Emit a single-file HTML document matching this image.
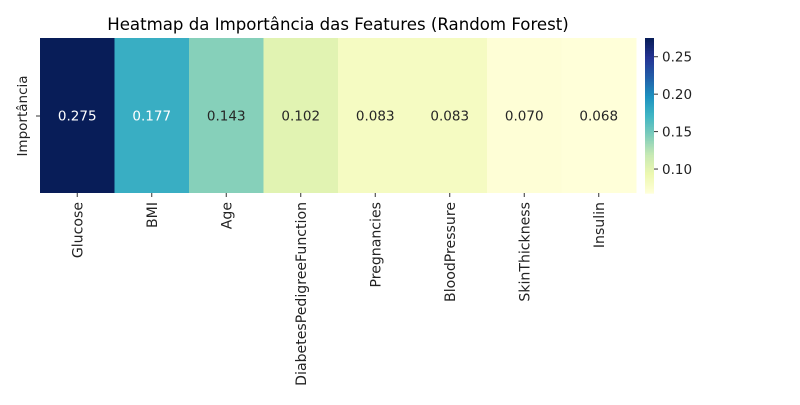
<!DOCTYPE html>
<html><head><meta charset="utf-8"><style>
body{margin:0;background:#fff;font-family:"Liberation Sans","DejaVu Sans",sans-serif;}
svg text{font-family:"DejaVu Sans","Liberation Sans",sans-serif;}
</style></head><body>
<svg id="chart" width="800" height="400" xmlns="http://www.w3.org/2000/svg">
<text x="338" y="30" text-anchor="middle" font-size="16.6" fill="#000">Heatmap da Importância das Features (Random Forest)</text>
<g id="cells"></g><g id="xt"></g><g id="cb"></g>
<text transform="translate(27,116) rotate(-90)" text-anchor="middle" font-size="13.5" fill="#222">Importância</text>
<line x1="36" y1="116" x2="40" y2="116" stroke="#333"/>
</svg>
<script>
const categories=["Glucose","BMI","Age","DiabetesPedigreeFunction","Pregnancies","BloodPressure","SkinThickness","Insulin"];
const values=[0.275,0.177,0.143,0.102,0.083,0.083,0.070,0.068];
const cbTicks=[0.10,0.15,0.20,0.25];
const stops=["#ffffd9","#edf8b1","#c7e9b4","#7fcdbb","#41b6c4","#1d91c0","#225ea8","#253494","#081d58"];
const NS="http://www.w3.org/2000/svg";
const vmin=Math.min(...values),vmax=Math.max(...values);
function hex(c){return [1,3,5].map(i=>parseInt(c.substr(i,2),16));}
function cmap(v){let t=(v-vmin)/(vmax-vmin);t=Math.max(0,Math.min(1,t));const p=t*(stops.length-1);const i=Math.min(Math.floor(p),stops.length-2);const f=p-i;const a=hex(stops[i]),b=hex(stops[i+1]);const c=a.map((x,k)=>Math.round(x+(b[k]-x)*f));return {s:`rgb(${c})`,l:(0.299*c[0]+0.587*c[1]+0.114*c[2])};}
const X0=40,X1=636,Y0=38,Y1=193,cw=(X1-X0)/categories.length;
const xs=i=>X0+i*cw;
const cells=document.getElementById('cells'),xt=document.getElementById('xt'),cb=document.getElementById('cb');
values.forEach((v,i)=>{
 const c=cmap(v);
 const r=document.createElementNS(NS,'rect');
 r.setAttribute('x',xs(i));r.setAttribute('y',Y0);r.setAttribute('width',cw+0.5);r.setAttribute('height',Y1-Y0);r.setAttribute('fill',c.s);
 
 
 cells.appendChild(r);
 const t=document.createElementNS(NS,'text');
 t.setAttribute('x',xs(i)+cw/2);t.setAttribute('y',120.5);t.setAttribute('text-anchor','middle');t.setAttribute('font-size','13.5');
 t.setAttribute('fill',c.l<155?'#fff':'#262626');t.textContent=v.toFixed(3);
 
 
 cells.appendChild(t);
 const tk=document.createElementNS(NS,'line');
 tk.setAttribute('x1',xs(i)+cw/2);tk.setAttribute('x2',xs(i)+cw/2);tk.setAttribute('y1',Y1);tk.setAttribute('y2',Y1+4);tk.setAttribute('stroke','#333');
 
 
 xt.appendChild(tk);
 const lb=document.createElementNS(NS,'text');
 const x=xs(i)+cw/2+5,y=Y1+9;
 lb.setAttribute('transform',`translate(${x},${y}) rotate(-90)`);lb.setAttribute('text-anchor','end');lb.setAttribute('font-size','14.1');lb.setAttribute('fill','#222');lb.textContent=categories[i];
 
 
 xt.appendChild(lb);
});
const cbx=645,cbw=9;
const cy=v=>Y1-(v-vmin)/(vmax-vmin)*(Y1-Y0);
const N=100;
for(let k=0;k<N;k++){
 const v=vmin+(vmax-vmin)*k/N;
 const r=document.createElementNS(NS,'rect');
 r.setAttribute('x',cbx);r.setAttribute('y',cy(v+(vmax-vmin)/N));r.setAttribute('width',cbw);r.setAttribute('height',(Y1-Y0)/N+0.6);r.setAttribute('fill',cmap(v+(vmax-vmin)/(2*N)).s);
 
 
 cb.appendChild(r);
}
cbTicks.forEach(v=>{
 const y=cy(v);
 const l=document.createElementNS(NS,'line');
 l.setAttribute('x1',cbx+cbw);l.setAttribute('x2',cbx+cbw+4);l.setAttribute('y1',y);l.setAttribute('y2',y);l.setAttribute('stroke','#333');
 
 
 cb.appendChild(l);
 const t=document.createElementNS(NS,'text');
 t.setAttribute('x',cbx+cbw+8);t.setAttribute('y',y+5);t.setAttribute('font-size','13.5');t.setAttribute('fill','#222');t.textContent=v.toFixed(2);
 
 
 cb.appendChild(t);
});
</script>
</body></html>
